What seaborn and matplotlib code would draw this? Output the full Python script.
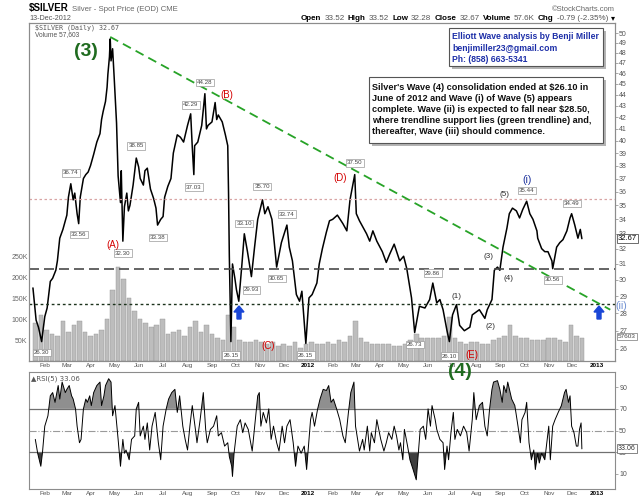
import matplotlib
matplotlib.use("Agg")
import matplotlib.pyplot as plt
import matplotlib.dates as mdates
from matplotlib.patches import FancyArrow, Rectangle
from matplotlib.ticker import FixedLocator, FixedFormatter, NullLocator
import numpy as np
import pandas as pd
import seaborn as sns

# ---- price (daily closes / swing extremes) ----
price_dates = [
    "2011-01-17", "2011-01-21", "2011-01-24", "2011-01-28", "2011-02-01", "2011-02-04", "2011-02-08", "2011-02-11",
    "2011-02-15", "2011-02-17", "2011-02-20", "2011-02-24", "2011-03-01", "2011-03-03", "2011-03-06", "2011-03-09",
    "2011-03-11", "2011-03-14", "2011-03-16", "2011-03-18", "2011-03-22", "2011-03-25", "2011-03-28", "2011-03-31",
    "2011-04-04", "2011-04-08", "2011-04-12", "2011-04-14", "2011-04-16", "2011-04-19", "2011-04-21", "2011-04-22",
    "2011-04-24", "2011-04-25", "2011-04-26", "2011-04-28", "2011-04-30", "2011-05-03", "2011-05-05", "2011-05-08",
    "2011-05-09", "2011-05-11", "2011-05-13", "2011-05-16", "2011-05-18", "2011-05-20", "2011-05-24", "2011-05-28",
    "2011-05-31", "2011-06-02", "2011-06-06", "2011-06-08", "2011-06-11", "2011-06-15", "2011-06-19", "2011-06-22",
    "2011-06-24", "2011-06-28", "2011-07-01", "2011-07-03", "2011-07-07", "2011-07-11", "2011-07-14", "2011-07-19",
    "2011-07-23", "2011-07-27", "2011-08-01", "2011-08-05", "2011-08-07", "2011-08-09", "2011-08-10", "2011-08-14",
    "2011-08-19", "2011-08-23", "2011-08-25", "2011-08-27", "2011-09-01", "2011-09-05", "2011-09-07", "2011-09-09",
    "2011-09-14", "2011-09-18", "2011-09-21", "2011-09-22", "2011-09-23", "2011-09-25", "2011-09-27", "2011-09-30",
    "2011-10-02", "2011-10-05", "2011-10-09", "2011-10-12", "2011-10-16", "2011-10-21", "2011-10-25", "2011-10-29",
    "2011-11-04", "2011-11-07", "2011-11-11", "2011-11-16", "2011-11-19", "2011-11-22", "2011-11-28", "2011-12-05",
    "2011-12-08", "2011-12-12", "2011-12-17", "2011-12-21", "2011-12-24", "2011-12-29",
    "2012-01-02", "2012-01-06", "2012-01-12", "2012-01-15", "2012-01-19", "2012-01-24", "2012-01-28", "2012-02-01",
    "2012-02-07", "2012-02-14", "2012-02-19", "2012-02-23", "2012-02-29", "2012-03-02", "2012-03-06", "2012-03-15",
    "2012-03-19", "2012-03-23", "2012-03-28", "2012-04-04", "2012-04-09", "2012-04-13", "2012-04-19", "2012-04-26",
    "2012-05-01", "2012-05-05", "2012-05-11", "2012-05-15", "2012-05-21", "2012-05-28", "2012-06-03", "2012-06-07",
    "2012-06-12", "2012-06-16", "2012-06-20", "2012-06-25", "2012-06-28", "2012-07-02", "2012-07-07", "2012-07-11",
    "2012-07-17", "2012-07-24", "2012-07-27", "2012-08-05", "2012-08-12", "2012-08-15", "2012-08-21", "2012-08-24",
    "2012-08-28", "2012-08-31", "2012-09-04", "2012-09-09", "2012-09-12", "2012-09-16", "2012-09-21", "2012-09-25",
    "2012-09-29", "2012-10-04", "2012-10-08", "2012-10-12", "2012-10-17", "2012-10-18", "2012-10-23", "2012-10-27",
    "2012-10-31", "2012-11-05", "2012-11-06", "2012-11-11", "2012-11-15", "2012-11-19", "2012-11-24", "2012-11-28",
    "2012-11-30", "2012-12-04", "2012-12-08", "2012-12-11", "2012-12-13",
]
price_close = [
    29.5, 27.6, 27.2, 26.4, 27.8, 28.3, 29.9, 30.1,
    30.6, 31.2, 32.7, 33.3, 34.3, 35.6, 36.6, 35.4,
    35.9, 34.4, 33.7, 35.6, 37.0, 37.3, 37.5, 38.0,
    38.9, 39.9, 40.6, 41.8, 42.5, 43.4, 44.7, 45.9,
    47.6, 49.4, 47.2, 48.4, 45.6, 41.5, 37.2, 35.2,
    37.6, 32.5, 34.9, 35.9, 34.6, 35.0, 36.5, 38.6,
    37.9, 37.0, 36.5, 37.6, 37.8, 36.2, 35.5, 34.8,
    33.6, 34.0, 34.2, 35.6, 36.4, 37.0, 39.0, 40.5,
    40.3, 39.9, 41.3, 42.3, 39.5, 37.3, 39.6, 39.9,
    41.3, 44.1, 41.0, 41.3, 41.6, 43.3, 41.8, 42.2,
    41.6, 40.5, 39.6, 35.9, 31.5, 26.4, 31.0, 30.1,
    29.4, 28.7, 31.0, 33.0, 31.8, 30.2, 32.1, 34.0,
    35.4, 34.4, 34.9, 34.0, 32.4, 30.8, 32.4, 33.6,
    32.1, 31.2, 29.1, 28.7, 29.3, 26.3,
    28.9, 29.1, 29.8, 31.0, 32.0, 33.1, 33.9, 34.0,
    34.3, 33.7, 33.2, 35.4, 37.3, 34.4, 33.9, 33.0,
    32.5, 33.2, 32.5, 31.8, 31.1, 31.6, 32.3, 31.2,
    31.5, 30.7, 28.9, 26.9, 28.4, 28.3, 28.8, 29.8,
    28.6, 28.8, 28.2, 27.0, 26.4, 27.9, 28.5, 27.3,
    27.0, 27.2, 27.9, 28.2, 27.7, 28.2, 28.8, 30.6,
    30.8, 30.6, 32.1, 33.4, 34.4, 34.8, 34.6, 34.1,
    34.7, 35.3, 34.4, 34.0, 33.2, 32.7, 32.0, 31.8,
    31.8, 31.2, 30.7, 32.1, 32.4, 32.6, 33.2, 34.1,
    34.4, 33.6, 32.7, 33.3, 32.67,
]

# ---- weekly volume (thousands), weeks starting Mondays from 2011-01-17 ----
vol_k = [
    90, 110, 75, 65, 60, 95, 70, 85, 95, 70,
    60, 65, 75, 100, 170, 225, 195, 150, 120, 100,
    90, 80, 85, 100, 65, 70, 75, 60, 80, 95,
    70, 85, 65, 55, 50, 110, 80, 50, 45, 45,
    50, 45, 40, 45, 35, 40, 35, 45, 30, 40,
    45, 40, 40, 45, 40, 50, 45, 60, 95, 55,
    45, 40, 40, 40, 40, 35, 35, 40, 50, 65,
    55, 55, 55, 55, 60, 105, 55, 45, 40, 45,
    45, 40, 40, 50, 55, 60, 85, 60, 55, 55,
    50, 50, 50, 55, 55, 50, 45, 85, 60, 55,
]

# ---- RSI(5) ----
rsi_dates = [
    "2011-01-20", "2011-01-23", "2011-01-27", "2011-01-29", "2011-02-01", "2011-02-05", "2011-02-08", "2011-02-11", "2011-02-14", "2011-02-18",
    "2011-02-20", "2011-02-23", "2011-02-27", "2011-03-01", "2011-03-04", "2011-03-07", "2011-03-09", "2011-03-12", "2011-03-14", "2011-03-17",
    "2011-03-19", "2011-03-22", "2011-03-25", "2011-03-27", "2011-03-30", "2011-04-01", "2011-04-04", "2011-04-08", "2011-04-12", "2011-04-14",
    "2011-04-17", "2011-04-19", "2011-04-23", "2011-04-26", "2011-04-28", "2011-05-01", "2011-05-05", "2011-05-08", "2011-05-11", "2011-05-13",
    "2011-05-15", "2011-05-19", "2011-05-22", "2011-05-26", "2011-05-28", "2011-05-31", "2011-06-02", "2011-06-06", "2011-06-08", "2011-06-11",
    "2011-06-14", "2011-06-17", "2011-06-21", "2011-06-25", "2011-06-28", "2011-07-01", "2011-07-05", "2011-07-08", "2011-07-12", "2011-07-16",
    "2011-07-19", "2011-07-22", "2011-07-26", "2011-07-29", "2011-08-01", "2011-08-04", "2011-08-07", "2011-08-11", "2011-08-13", "2011-08-17",
    "2011-08-21", "2011-08-24", "2011-08-26", "2011-08-30", "2011-09-03", "2011-09-07", "2011-09-09", "2011-09-13", "2011-09-17", "2011-09-21",
    "2011-09-23", "2011-09-26", "2011-09-27", "2011-09-29", "2011-10-03", "2011-10-07", "2011-10-10", "2011-10-13", "2011-10-17", "2011-10-22",
    "2011-10-26", "2011-10-29", "2011-10-31", "2011-11-02", "2011-11-05", "2011-11-09", "2011-11-12", "2011-11-15", "2011-11-18", "2011-11-22",
    "2011-11-25", "2011-11-29", "2011-12-02", "2011-12-05", "2011-12-09", "2011-12-13", "2011-12-16", "2011-12-19", "2011-12-23", "2011-12-27",
    "2011-12-30",
    "2012-01-02", "2012-01-04", "2012-01-06", "2012-01-09", "2012-01-13", "2012-01-16", "2012-01-20", "2012-01-24", "2012-01-27", "2012-01-30",
    "2012-02-02", "2012-02-06", "2012-02-10", "2012-02-14", "2012-02-17", "2012-02-21", "2012-02-24", "2012-02-28", "2012-03-01", "2012-03-03",
    "2012-03-06", "2012-03-10", "2012-03-12", "2012-03-16", "2012-03-19", "2012-03-21", "2012-03-25", "2012-03-28", "2012-04-02", "2012-04-06",
    "2012-04-09", "2012-04-12", "2012-04-16", "2012-04-19", "2012-04-22", "2012-04-25", "2012-04-27", "2012-04-30", "2012-05-02", "2012-05-06",
    "2012-05-09", "2012-05-13", "2012-05-17", "2012-05-19", "2012-05-22", "2012-05-26", "2012-05-29", "2012-06-01", "2012-06-04", "2012-06-06",
    "2012-06-10", "2012-06-12", "2012-06-16", "2012-06-20", "2012-06-22", "2012-06-25", "2012-06-27", "2012-06-30", "2012-07-03", "2012-07-05",
    "2012-07-08", "2012-07-12", "2012-07-16", "2012-07-20", "2012-07-23", "2012-07-27", "2012-07-29", "2012-08-01", "2012-08-05", "2012-08-09",
    "2012-08-12", "2012-08-15", "2012-08-18", "2012-08-21", "2012-08-23", "2012-08-28", "2012-08-31", "2012-09-03", "2012-09-05", "2012-09-08",
    "2012-09-10", "2012-09-13", "2012-09-15", "2012-09-19", "2012-09-23", "2012-09-26", "2012-09-28", "2012-10-02", "2012-10-04", "2012-10-07",
    "2012-10-10", "2012-10-13", "2012-10-15", "2012-10-18", "2012-10-20", "2012-10-23", "2012-10-27", "2012-10-30", "2012-11-01", "2012-11-03",
    "2012-11-06", "2012-11-09", "2012-11-13", "2012-11-17", "2012-11-21", "2012-11-23", "2012-11-26", "2012-11-28", "2012-11-30", "2012-12-03",
    "2012-12-06", "2012-12-08", "2012-12-10", "2012-12-12", "2012-12-13",
]
rsi_values = [
    41.8, 29, 17, 29, 54, 63.6, 82, 85, 76, 91.5,
    79, 94.7, 85, 88, 91.5, 82, 79, 70, 54, 38.7,
    41.8, 70, 79, 76, 82, 73, 85, 91.5, 94.7, 73,
    82, 91.5, 97.8, 94.7, 63.6, 73, 41.8, 17, 41.8, 29,
    32, 23, 41.8, 45, 70, 76, 45, 54, 41.8, 57,
    32, 54, 66.7, 38.7, 23, 54, 70, 79, 85, 88,
    66.7, 82, 54, 41.8, 32, 54, 73, 51, 38.7, 60,
    85, 51, 38.7, 51, 54, 63.6, 45, 48, 35.6, 38.7,
    26, 17, 7.6, 29, 54, 60, 48, 57, 51, 31,
    60, 82, 85, 54, 66.7, 57, 70, 41.8, 54, 38.7,
    31, 54, 38.7, 54, 60, 38.7, 17, 35.6, 29, 35.6,
    14,
    41.8, 60, 66.7, 54, 70, 79, 88, 86.9, 91.5, 76,
    79, 70, 60, 45, 38.7, 66.7, 85, 94.7, 54, 45,
    31, 41.8, 32, 54, 31, 48, 38.7, 60, 41.8, 31,
    38.7, 48, 41.8, 54, 45, 32, 38.7, 23, 51, 35.6,
    23, 14, 4.5, 23, 51, 54, 41.8, 70, 54, 73,
    60, 51, 41.8, 38.7, 14, 35.6, 23, 48, 66.7, 41.8,
    51, 45, 54, 48, 31, 60, 85, 60, 73, 76,
    54, 45, 70, 88, 94.7, 96, 88, 76, 91.5, 85,
    94.7, 85, 79, 73, 54, 38.7, 60, 66.7, 76, 38.7,
    23, 32, 14, 29, 20, 29, 23, 41.8, 54, 23,
    54, 60, 66.7, 73, 85, 88, 76, 82, 54, 48,
    35.6, 35.6, 51, 57, 33.06,
]

# ---- swing high / low tags ----
tag_dates = ["2011-01-28", "2011-03-06", "2011-03-16", "2011-05-11", "2011-05-28", "2011-06-24",
             "2011-08-05", "2011-08-09", "2011-08-23", "2011-09-25", "2011-10-12", "2011-10-21",
             "2011-11-04", "2011-11-22", "2011-12-05", "2011-12-29", "2012-02-29", "2012-05-15",
             "2012-06-07", "2012-06-28", "2012-10-04", "2012-11-06", "2012-11-30"]
tag_values = [26.30, 36.74, 33.56, 32.30, 38.85, 33.38, 42.29, 37.03, 44.28, 26.15, 33.10, 29.93,
              35.70, 30.65, 33.74, 26.15, 37.50, 26.73, 29.86, 26.10, 35.44, 30.56, 34.49]
tag_above = [False, True, False, False, True, False, True, False, True, False, True, False,
             True, False, True, False, True, False, True, False, True, False, True]

trend_dates = ["2011-04-25", "2013-01-18"]
trend_values = [49.6, 28.2]

W, H = 640, 503


def fx(px):
    return px / W


def fy(py):
    return 1 - py / H


sns.set_theme(style="white")
plt.rcParams["font.family"] = ["Liberation Sans", "DejaVu Sans"]

fig = plt.figure(figsize=(6.4, 5.03), dpi=100)
fig.patch.set_facecolor("white")

ax_vol = fig.add_axes([fx(29), fy(361), fx(615) - fx(29), fy(23) - fy(361)])
ax = ax_vol.twinx()
ax_rsi = fig.add_axes([fx(29), fy(489), fx(615) - fx(29), fy(372) - fy(489)])

# volume
vol_df = pd.DataFrame({"week": pd.date_range("2011-01-17", periods=len(vol_k), freq="W-MON"),
                       "volume": np.array(vol_k) * 1000.0})
ax_vol.bar(vol_df["week"] + pd.Timedelta(days=3), vol_df["volume"], width=5.8,
           color="#bdbdbd", edgecolor="#959595", linewidth=0.3)
ax_vol.set_ylim(0, 807000)
ax_vol.set_yticks([50000, 100000, 150000, 200000, 250000])
ax_vol.set_yticklabels(["50K", "100K", "150K", "200K", "250K"])

# price
price_df = pd.DataFrame({"date": pd.to_datetime(price_dates), "close": price_close})
sns.lineplot(data=price_df, x="date", y="close", ax=ax, color="black", linewidth=1.1)
ax.set_yscale("log")
ax.set_ylim(25.36, 51.05)
ax.yaxis.set_major_locator(FixedLocator(list(range(26, 51))))
ax.yaxis.set_major_formatter(FixedFormatter([str(v) for v in range(26, 51)]))
ax.yaxis.set_minor_locator(NullLocator())
ax.set_xlabel("")
ax.set_ylabel("")

ax.axhline(35.44, color="#d8a4a4", linestyle=(0, (2, 2)), linewidth=0.9)
ax.axhline(30.7, color="#4a4a4a", linestyle=(0, (6, 3)), linewidth=1.2)
ax.axhline(28.55, color="#1d331d", linestyle=(0, (2, 2)), linewidth=1.0)
ax.plot(pd.to_datetime(trend_dates), trend_values, color="#27a327", linestyle=(0, (5, 3)), linewidth=1.3)

for d, v, up in zip(tag_dates, tag_values, tag_above):
    ax.annotate(f"{v:.2f}", xy=(pd.Timestamp(d), v), xytext=(0, 6.5 if up else -6.5),
                textcoords="offset points", ha="center", va="center", fontsize=4.4, color="#444444",
                bbox=dict(boxstyle="square,pad=0.2", fc="white", ec="#9a9a9a", lw=0.5), zorder=6)

# RSI
rsi_df = pd.DataFrame({"date": pd.to_datetime(rsi_dates), "rsi": rsi_values})
sns.lineplot(data=rsi_df, x="date", y="rsi", ax=ax_rsi, color="black", linewidth=0.7, zorder=4)
rx = mdates.date2num(rsi_df["date"])
ry = rsi_df["rsi"].to_numpy()
ax_rsi.fill_between(rx, ry, 70, where=ry > 70, interpolate=True, color="#8f8f8f", lw=0, zorder=2)
ax_rsi.fill_between(rx, ry, 30, where=ry < 30, interpolate=True, color="#3e3e3e", lw=0, zorder=2)
ax_rsi.axhline(70, color="#707070", linewidth=0.9, zorder=3)
ax_rsi.axhline(30, color="#707070", linewidth=0.9, zorder=3)
ax_rsi.axhline(50, color="#9a9a9a", linestyle="-.", linewidth=0.8, zorder=3)
ax_rsi.set_ylim(-4, 104)
ax_rsi.yaxis.tick_right()
ax_rsi.set_yticks([10, 30, 50, 70, 90])
ax_rsi.set_xlabel("")
ax_rsi.set_ylabel("")

# shared date axis styling
xmin, xmax = pd.Timestamp("2011-01-12"), pd.Timestamp("2013-01-24")
month_ticks = pd.date_range("2011-02-01", "2013-01-01", freq="MS")
month_labels = [str(d.year) if d.month == 1 else d.strftime("%b") for d in month_ticks]
for a in (ax_vol, ax_rsi):
    a.set_xlim(xmin, xmax)
    a.set_xticks(month_ticks)
    a.set_xticklabels(month_labels)
    a.tick_params(axis="x", length=0, labelsize=4.6, labelcolor="#555555", pad=1.5)
    for lbl in a.get_xticklabels():
        if lbl.get_text().isdigit():
            lbl.set_fontweight("bold")
            lbl.set_color("black")
ax_vol.tick_params(axis="y", length=0, labelsize=5, labelcolor="#666666", pad=1)
ax.tick_params(axis="y", which="major", right=True, length=2, width=0.5, color="#888888",
               labelsize=5, labelcolor="#555555", pad=1)
ax_rsi.tick_params(axis="y", right=True, length=2, width=0.5, color="#888888",
                   labelsize=5, labelcolor="#555555", pad=1)

for a in (ax_vol, ax, ax_rsi):
    a.grid(False)
    for s in a.spines.values():
        s.set_color("#8c8c8c")
        s.set_linewidth(0.8)

# current value tags on the right edge
ax.annotate("32.67", xy=(1.0, 32.67), xycoords=("axes fraction", "data"), xytext=(2, 0),
            textcoords="offset points", ha="left", va="center", fontsize=5.5, color="black",
            bbox=dict(boxstyle="square,pad=0.15", fc="white", ec="#555555", lw=0.6), zorder=7)
ax_vol.annotate("57603", xy=(1.0, 57603), xycoords=("axes fraction", "data"), xytext=(2, 0),
                textcoords="offset points", ha="left", va="center", fontsize=4.6, color="#444444",
                bbox=dict(boxstyle="square,pad=0.15", fc="white", ec="#777777", lw=0.5),
                annotation_clip=False, zorder=7)
ax_rsi.annotate("33.06", xy=(1.0, 33.06), xycoords=("axes fraction", "data"), xytext=(2, 0),
                textcoords="offset points", ha="left", va="center", fontsize=5, color="#333333",
                bbox=dict(boxstyle="square,pad=0.15", fc="white", ec="#555555", lw=0.5), zorder=7)

# header
title = fig.text(fx(29), fy(11), "$SILVER", fontsize=7, fontweight="bold", color="black", va="baseline")
ax_vol.annotate("Silver - Spot Price (EOD) CME", xy=(1, 0), xycoords=title, xytext=(2.5, 0),
                textcoords="offset points", ha="left", va="bottom", fontsize=5.6, color="#666666")
fig.text(fx(615), fy(11), "\u00a9StockCharts.com", ha="right", va="baseline", fontsize=5.4, color="#666666")
fig.text(fx(29), fy(20), "13-Dec-2012", va="baseline", fontsize=5.2, color="#555555")

hdr_parts = [("Open", True), ("33.52", False), ("High", True), ("33.52", False), ("Low", True),
             ("32.28", False), ("Close", True), ("32.67", False), ("Volume", True), ("57.6K", False),
             ("Chg", True), ("-0.79 (-2.35%)", False), ("\u25be", True)]
first = fig.text(fx(290), fy(20), hdr_parts[0][0], fontsize=5.8, fontweight="bold",
                 color="black", va="baseline")
prev = first
for txt, bold in hdr_parts[1:]:
    prev = ax_vol.annotate(txt, xy=(1, 0), xycoords=prev, xytext=(2.2, 0), textcoords="offset points",
                           ha="left", va="bottom", fontsize=5.8,
                           fontweight="bold" if bold else "normal",
                           color="black" if bold else "#555555")

# legends inside panels
fig.text(fx(35), fy(29.5), "$SILVER (Daily) 32.67", fontsize=4.8, color="#555555",
         family="DejaVu Sans Mono", va="baseline")
fig.text(fx(35), fy(36), "Volume 57,603", fontsize=4.8, color="#555555", va="baseline")
fig.text(fx(31), fy(379), "\u25b2RSI(5) 33.06", fontsize=5, color="#555555", va="center",
         family=["DejaVu Sans"])

# wave labels
fig.text(fx(86), fy(51), "(3)", fontsize=14, fontweight="bold", color="#1f6b1f", ha="center", va="center")
fig.text(fx(460), fy(371), "(4)", fontsize=14, fontweight="bold", color="#1f6b1f", ha="center", va="center",
         zorder=20)
for txt, px, py in [("(A)", 113, 245), ("(B)", 227, 95), ("(C)", 268, 346), ("(D)", 340, 178), ("(E)", 472, 355)]:
    fig.text(fx(px), fy(py), txt, fontsize=7, color="#d40000", ha="center", va="center")
for txt, px, py in [("(1)", 457, 297), ("(2)", 490, 326), ("(3)", 488, 256), ("(4)", 509, 278), ("(5)", 505, 194)]:
    fig.text(fx(px), fy(py), txt, fontsize=5.8, color="#2a2a2a", ha="center", va="center")
fig.text(fx(527), fy(180), "(i)", fontsize=7.5, color="#1a2f9c", ha="center", va="center")
fig.text(fx(621), fy(306), "(ii)", fontsize=7.5, color="#6e8fd2", ha="center", va="center")

# blue arrows (tip near the $28.50 support line)
for px in (239, 599):
    fig.add_artist(FancyArrow(px / 100, (H - 319) / 100, 0, 0.13, width=0.04, head_width=0.1,
                              head_length=0.06, length_includes_head=True, color="#1a46d6",
                              transform=fig.dpi_scale_trans, zorder=15))


# text boxes
def box(x0, y0, x1, y1):
    fig.add_artist(Rectangle((fx(x0 + 2.5), fy(y1 + 2.5)), fx(x1) - fx(x0), fy(y0) - fy(y1),
                             transform=fig.transFigure, fc="#b4b4b4", ec="none", zorder=9))
    fig.add_artist(Rectangle((fx(x0), fy(y1)), fx(x1) - fx(x0), fy(y0) - fy(y1),
                             transform=fig.transFigure, fc="white", ec="#555555", lw=0.8, zorder=10))


box(449, 28, 603, 66)
for i, line in enumerate(["Elliott Wave analysis by Benji Miller", "benjimiller23@gmail.com",
                          "Ph: (858) 663-5341"]):
    fig.text(fx(452), fy(37 + 11.5 * i), line, fontsize=6.2, fontweight="bold", color="#1c2ea8",
             va="center", zorder=11)

box(369, 77, 603, 143)
note = ["Silver's Wave (4) consolidation ended at $26.10 in",
        "June of 2012 and Wave (i) of Wave (5) appears",
        "complete. Wave (ii) is expected to fall near $28.50,",
        "where trendline support lies (green trendline) and,",
        "thereafter, Wave (iii) should commence."]
for i, line in enumerate(note):
    fig.text(fx(372), fy(87.5 + 11 * i), line, fontsize=6.6, fontweight="bold", color="#111111",
             va="center", zorder=11)

# right-align the OHLC header against the panel edge
fig.canvas.draw()
shift = (615 - prev.get_window_extent().x1) / W
first.set_x(first.get_position()[0] + shift)

fig.savefig("out.png", dpi=100)
